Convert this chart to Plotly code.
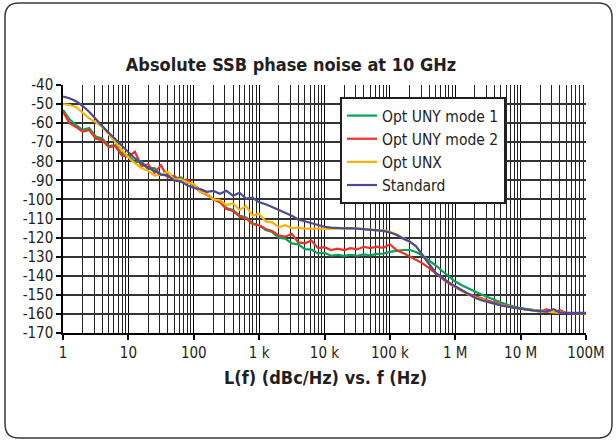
import plotly.graph_objects as go

freq_hz = [1, 1.26, 1.58, 2, 2.51, 3.16, 3.98, 5.01, 6.31, 7.94,
           10, 12.6, 15.8, 20, 25.1, 31.6, 39.8, 50.1, 63.1, 79.4,
           100, 126, 158, 200, 251, 316, 398, 501, 631, 794,
           1e3, 1.26e3, 1.58e3, 2e3, 2.51e3, 3.16e3, 3.98e3, 5.01e3, 6.31e3, 7.94e3,
           1e4, 1.26e4, 1.58e4, 2e4, 2.51e4, 3.16e4, 3.98e4, 5.01e4, 6.31e4, 7.94e4,
           1e5, 1.26e5, 1.58e5, 2e5, 2.51e5, 3.16e5, 3.98e5, 5.01e5, 6.31e5, 7.94e5,
           1e6, 1.26e6, 1.58e6, 2e6, 2.51e6, 3.16e6, 3.98e6, 5.01e6, 6.31e6, 7.94e6,
           1e7, 1.26e7, 1.58e7, 2e7, 2.51e7, 3.16e7, 3.98e7, 5.01e7, 6.31e7, 7.94e7,
           1e8]

uny_mode1 = [-53, -58, -61, -63.5, -62.5, -67, -68, -72, -71.5, -76,
             -77, -80.5, -80, -84, -83.5, -87, -86, -89, -88.5, -91,
             -92, -95.5, -97, -100, -101, -104.5, -105.5, -108.5, -109.5, -112.5,
             -113.5, -116, -117, -120, -120.5, -123, -123.5, -126, -126.3, -128.3,
             -128, -129.5, -129, -129.6, -129, -129.5, -128.8, -129.3, -128.5, -128.4,
             -127.5, -126.8, -126.5, -126.5, -127.5, -129.5, -132, -134.5, -137.5, -140.5,
             -143, -145, -146.8, -148.3, -149.8, -151.3, -152.8, -154, -155.2, -156.3,
             -157, -157.5, -158, -158.5, -158.8, -159.2, -159.4, -159.5, -159.6, -159.7,
             -159.6]

uny_mode2 = [-54, -60, -62, -64.5, -63.5, -68, -69, -72.5, -72, -77,
             -77.5, -75, -82.5, -81.5, -86, -82, -88.5, -87.5, -90.5, -89.5,
             -93, -96, -97.5, -100, -101.5, -105, -106, -109, -110, -113,
             -113.5, -115.5, -116.5, -119, -119.5, -118, -122.5, -123, -121.5, -125.5,
             -125, -126.5, -125.8, -126.5, -125.5, -126.2, -124.8, -125.5, -124.7, -125.3,
             -123.5, -126.5, -128, -130, -131.5, -133.5, -136, -139, -141.5, -144,
             -146, -148, -149.5, -150.8, -151.8, -153, -154, -155, -156, -156.8,
             -157.3, -157.8, -158.3, -158.8, -157.5, -159.3, -158, -159.5, -159.7, -159.8,
             -159.7]

unx = [-50, -50.5, -51.5, -54.5, -57.5, -59.5, -62, -66, -70, -74,
       -78, -81, -83.5, -85, -87.5, -87, -85.5, -89.5, -89.5, -91,
       -92, -96, -97, -100, -100.5, -103, -102, -105.5, -103.5, -108.5,
       -107.5, -111.5, -112, -114.5, -113.5, -115, -114.8, -115.3, -115.2, -115.3,
       -115.4, -115.4, -115.3, -115.2, -115, -115.2, -115.3, -115.5, -115.8, -116.2,
       -117, -118.3, -120.2, -122, -124.5, -129, -134, -138.3, -141, -143.5,
       -145.7, -147.7, -149.8, -151.3, -152.6, -153.7, -154.7, -155.4, -156.1, -156.7,
       -157.2, -157.7, -158.2, -158.5, -158.8, -159.2, -159.3, -159.5, -159.6, -159.7,
       -159.6]

standard = [-46, -47, -48.5, -51, -54, -58, -61.5, -65, -68.5, -72,
            -75.5, -78.5, -81, -83.5, -85, -87, -87.5, -90, -90.5, -92.5,
            -94, -94.5, -96, -95.5, -97, -95.5, -98, -96.5, -99.5, -99,
            -101.5, -102.5, -104, -105.5, -107, -108.5, -110.5, -111.5, -112.5, -113.5,
            -114.3, -114.8, -115, -115.2, -115, -115.3, -115.5, -115.8, -116, -116.5,
            -117.3, -118.5, -120.5, -122, -124.5, -129, -134, -138.5, -141, -143.5,
            -145.5, -147.5, -149.8, -151.5, -152.8, -153.8, -154.8, -155.5, -156.2, -156.8,
            -157.2, -157.7, -158.2, -158.5, -158.8, -157.5, -159.3, -159.5, -159.6, -159.7,
            -159.5]

series_names = ["Opt UNY mode 1", "Opt UNY mode 2", "Opt UNX", "Standard"]
series_colors = ["#00a651", "#ee3124", "#ffb300", "#4a4a96"]

x_tickvals = [1, 10, 100, 1e3, 1e4, 1e5, 1e6, 1e7, 1e8]
x_ticktext = ["1", "10", "100", "1 k", "10 k", "100 k", "1 M", "10 M", "100M"]
y_tickvals = [-40, -50, -60, -70, -80, -90, -100, -110, -120, -130, -140, -150, -160, -170]
y_ticktext = ["-40", "-50", "-60", "-70", "-80", "-90", "-100", "-110", "-120", "-130",
              "-140", "-150", "-160", "-170"]

FONT = "DejaVu Sans Condensed, Liberation Sans Narrow, Roboto Condensed, Arial Narrow, sans-serif"

fig = go.Figure()
for name, vals, col in zip(series_names, [uny_mode1, uny_mode2, unx, standard], series_colors):
    fig.add_trace(go.Scatter(x=freq_hz, y=vals, mode="lines", name=name,
                             line=dict(color=col, width=2.2)))

# plot area in pixels
L, R, T, B = 63, 586, 85, 333
W, H = 616, 441

def px(x):
    return (x - L) / (R - L)

def py(y):
    return (B - y) / (B - T)

# rounded outer border
x0, x1, y0, y1, r = 5, 612, 3, 438, 14
path = (f"M {px(x0 + r)} {py(y0)} L {px(x1 - r)} {py(y0)} Q {px(x1)} {py(y0)} {px(x1)} {py(y0 + r)} "
        f"L {px(x1)} {py(y1 - r)} Q {px(x1)} {py(y1)} {px(x1 - r)} {py(y1)} "
        f"L {px(x0 + r)} {py(y1)} Q {px(x0)} {py(y1)} {px(x0)} {py(y1 - r)} "
        f"L {px(x0)} {py(y0 + r)} Q {px(x0)} {py(y0)} {px(x0 + r)} {py(y0)} Z")
fig.add_shape(type="path", path=path, xref="paper", yref="paper",
              line=dict(color="#3a3a3a", width=1.5), layer="above")

fig.add_annotation(text="<b>L(f) (dBc/Hz) vs. f (Hz)</b>", xref="paper", yref="paper",
                   x=px(325), y=py(377), xanchor="center", yanchor="middle", showarrow=False,
                   font=dict(family=FONT, size=18, color="#231f20"))

fig.update_layout(
    width=W, height=H,
    margin=dict(l=L, r=W - R, t=T, b=H - B),
    paper_bgcolor="white", plot_bgcolor="white",
    title=dict(text="<b>Absolute SSB phase noise at 10 GHz</b>", x=px(291), xref="paper",
               xanchor="center", y=1 - 65 / H, yref="container", yanchor="middle",
               font=dict(family=FONT, size=18, color="#231f20")),
    font=dict(family=FONT, size=15, color="#231f20"),
    showlegend=True,
    legend=dict(x=px(340), y=py(97), xanchor="left", yanchor="top",
                bgcolor="white", bordercolor="#231f20", borderwidth=2,
                font=dict(family=FONT, size=15.5, color="#231f20"),
                tracegroupgap=0),
    xaxis=dict(type="log", range=[0, 8], tickvals=x_tickvals, ticktext=x_ticktext,
               showgrid=True, gridcolor="#000000", gridwidth=1,
               minor=dict(dtick="D1", showgrid=True, gridcolor="#222222", gridwidth=1),
               ticks="outside", ticklen=5, tickcolor="#000", tickwidth=1.5,
               showline=True, linecolor="#000", linewidth=2, mirror=False,
               tickfont=dict(family=FONT, size=15, color="#231f20"), zeroline=False),
    yaxis=dict(range=[-170, -40], tickvals=y_tickvals, ticktext=y_ticktext,
               showgrid=True, gridcolor="#333333", gridwidth=1.5,
               ticks="outside", ticklen=5, tickcolor="#000", tickwidth=1.5,
               showline=True, linecolor="#000", linewidth=1.5,
               tickfont=dict(family=FONT, size=15, color="#231f20"), zeroline=False),
)

fig.write_html("out.html")
